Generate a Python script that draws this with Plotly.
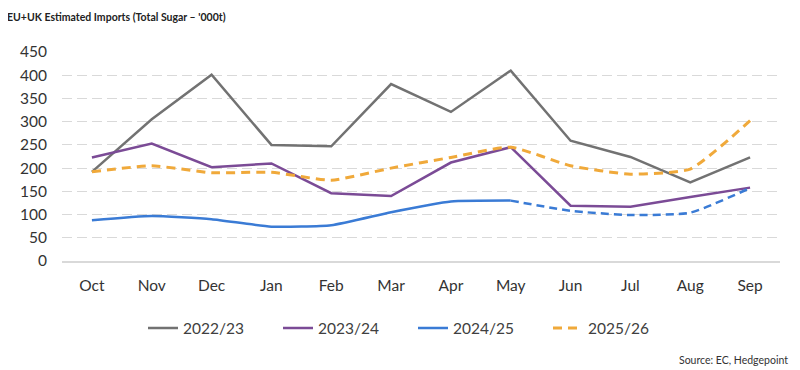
import plotly.graph_objects as go

months = ["Oct", "Nov", "Dec", "Jan", "Feb", "Mar", "Apr", "May", "Jun", "Jul", "Aug", "Sep"]
s2022 = [192, 305, 401, 250, 247, 381, 321, 410, 259, 224, 169, 223]
s2023 = [223, 253, 202, 210, 146, 140, 212, 245, 119, 117, 138, 158]
s2024 = [88, 97, 90, 74, 77, 105, 128, 130, 108, 99, 104, 157]
s2025 = [192, 205, 190, 191, 174, 200, 223, 245, 205, 187, 198, 302]
split_2024 = 7  # May: solid up to here, dashed after

gray = "#727272"
purple = "#7b4b96"
blue = "#3a7bd5"
orange = "#f0a93a"

fig = go.Figure()
fig.add_trace(go.Scatter(x=months, y=s2022, name="2022/23", mode="lines",
                         line=dict(color=gray, width=2.5)))
fig.add_trace(go.Scatter(x=months, y=s2023, name="2023/24", mode="lines",
                         line=dict(color=purple, width=2.5)))
fig.add_trace(go.Scatter(x=months[:split_2024 + 1], y=s2024[:split_2024 + 1], name="2024/25",
                         mode="lines", line=dict(color=blue, width=2.5, shape="spline", smoothing=0.5)))
fig.add_trace(go.Scatter(x=months[split_2024:], y=s2024[split_2024:], name="2024/25",
                         mode="lines", showlegend=False,
                         line=dict(color=blue, width=2.5, dash="8px,5px", shape="spline", smoothing=0.5)))
fig.add_trace(go.Scatter(x=months, y=s2025, name="2025/26", mode="lines",
                         line=dict(color=orange, width=3, dash="9px,6px", shape="spline", smoothing=0.5)))

W, H = 792, 362  # page body margin of 8px offsets the figure
L, R, T, B = 54, 20, 44, 109
PW, PH = W - L - R, H - T - B

fig.update_layout(
    width=W, height=H,
    margin=dict(l=L, r=R, t=T, b=B),
    paper_bgcolor="white", plot_bgcolor="white",
    font=dict(family="Lato, 'Open Sans', sans-serif", color="#333333", size=15),
    showlegend=True,
    legend=dict(orientation="h", xref="container", x=405 / W, xanchor="center",
                yref="container", y=0.115, yanchor="middle",
                font=dict(size=15.5, color="#404040"),
                entrywidth=90, entrywidthmode="pixels",
                traceorder="normal"),
    xaxis=dict(type="category", range=[-0.5, 11.5], showgrid=False,
               showline=True, linecolor="#d9d9d9", linewidth=1.5,
               ticks="", tickfont=dict(size=15.5, color="#333333"), ticklabelstandoff=10),
    yaxis=dict(range=[0, 450], dtick=50, showgrid=True, gridcolor="#d9d9d9",
               griddash="10px,5px", gridwidth=1, zeroline=False, showline=False,
               ticks="", tickfont=dict(size=15.5, color="#333333"), ticklabelstandoff=14),
    annotations=[
        dict(text="<b>EU+UK Estimated Imports (Total Sugar – '000t)</b>",
             xref="paper", yref="paper", x=(-3 - L) / PW, y=1 + T / PH,
             showarrow=False, font=dict(size=10.5, color="#222222"),
             xanchor="left", yanchor="top", yshift=-1),
        dict(text="Source: EC, Hedgepoint", xref="paper", yref="paper",
             x=(782 - L) / PW, y=-(352 - (H - B)) / PH, showarrow=False,
             font=dict(size=10.5, color="#333333"),
             xanchor="right", yanchor="middle"),
    ],
)

fig.write_html("out.html")
